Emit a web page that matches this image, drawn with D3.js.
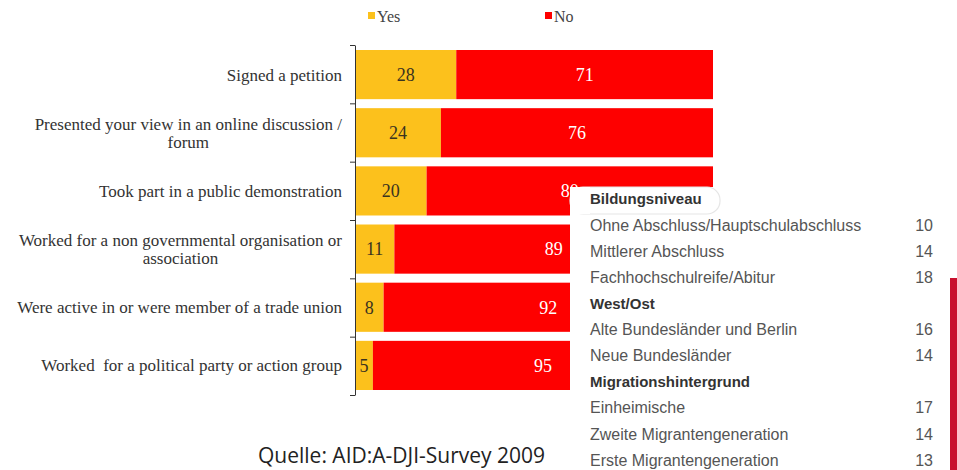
<!DOCTYPE html>
<html><head><meta charset="utf-8">
<script src="https://cdn.jsdelivr.net/npm/d3@7"></script>
<style>
html,body{margin:0;padding:0;background:#fff;}
svg{display:block;}
text{white-space:pre;}
</style></head>
<body>
<svg id="chart" width="957" height="470"></svg>
<script>
// ---- data ----
const categories = [
  "Signed a petition",
  "Presented your view in an online discussion /|forum",
  "Took part in a public demonstration",
  "Worked for a non governmental organisation or|association",
  "Were active in or were member of a trade union",
  "Worked  for a political party or action group"
];
const yesValues = [28, 24, 20, 11, 8, 5];
const noValues  = [71, 76, 80, 89, 92, 95];
const seriesNames = ["Yes", "No"];

const tableGroups = ["Bildungsniveau", "West/Ost", "Migrationshintergrund"];
const tableLabels = [
  "Ohne Abschluss/Hauptschulabschluss", "Mittlerer Abschluss", "Fachhochschulreife/Abitur",
  "Alte Bundesländer und Berlin", "Neue Bundesländer",
  "Einheimische", "Zweite Migrantengeneration", "Erste Migrantengeneration"
];
const tableValues = [10, 14, 18, 16, 14, 17, 14, 13];
const tableLabelGroup = [0, 0, 0, 1, 1, 2, 2, 2];
const sourceText = "Quelle: AID:A-DJI-Survey 2009";

// ---- setup ----
const svg = d3.select("#chart");
const colors = {Yes: "#fcc11c", No: "#fe0000"};
const serif = "'Liberation Serif', 'Times New Roman', serif";
const sans = "'Liberation Sans', Arial, sans-serif";

const rows = categories.map((c, i) => ({cat: c, Yes: yesValues[i], No: noValues[i]}));
const stack = d3.stack().keys(seriesNames).offset(d3.stackOffsetExpand);
const stacked = stack(rows);

const x = d3.scaleLinear().domain([0, 1]).range([355, 713]);
const y = d3.scaleBand().domain(categories).range([45, 395]).paddingInner(0.155).paddingOuter(0.086);

// bars
const g = svg.append("g");
stacked.forEach(layer => {
  g.selectAll(null).data(layer).enter().append("rect")
    .attr("x", d => x(d[0]))
    .attr("y", d => y(d.data.cat))
    .attr("width", d => x(d[1]) - x(d[0]))
    .attr("height", y.bandwidth())
    .attr("fill", colors[layer.key]);
  g.selectAll(null).data(layer).enter().append("text")
    .attr("x", d => (x(d[0]) + x(d[1])) / 2)
    .attr("y", d => y(d.data.cat) + y.bandwidth() / 2)
    .attr("dy", "0.35em")
    .attr("text-anchor", "middle")
    .attr("font-family", serif)
    .attr("font-size", 18)
    .attr("fill", layer.key === "Yes" ? "#3a3320" : "#fff")
    .text(d => d.data[layer.key]);
});

// axis
const axisScale = d3.scaleLinear().domain([0, categories.length]).range([45, 395]);
const axisG = svg.append("g").attr("transform", "translate(355,0)")
  .call(d3.axisLeft(axisScale).ticks(categories.length).tickFormat("").tickSize(5).tickSizeOuter(0));
axisG.selectAll("path,line").attr("stroke", "#333");

// category labels
const labelSize = 17;
categories.forEach(c => {
  const lines = c.split("|");
  const cy = y(c) + y.bandwidth() / 2;
  const lh = 18;
  const t = svg.append("text")
    .attr("font-family", serif).attr("font-size", labelSize).attr("fill", "#333");
  const first = t.append("tspan").attr("x", 342).attr("text-anchor", "end")
    .attr("y", cy - (lines.length - 1) * lh / 2).attr("dy", "0.35em").text(lines[0]);
  if (lines.length > 1) {
    const w = first.node().getComputedTextLength();
    svg.append("text").attr("font-family", serif).attr("font-size", labelSize).attr("fill", "#333")
      .attr("x", 342 - w / 2).attr("text-anchor", "middle")
      .attr("y", cy + lh / 2).attr("dy", "0.35em").text(lines[1]);
  }
});

// legend
const legendX = {Yes: 368, No: 545};
seriesNames.forEach(s => {
  svg.append("rect").attr("x", legendX[s]).attr("y", 12).attr("width", 7).attr("height", 7).attr("fill", colors[s]);
  svg.append("text").attr("x", legendX[s] + 9).attr("y", 22)
    .attr("font-family", serif).attr("font-size", 16).attr("fill", "#444").text(s);
});

// overlay table
svg.append("rect").attr("x", 570).attr("y", 187).attr("width", 387).attr("height", 283).attr("fill", "#fff");
svg.append("rect").attr("x", 570).attr("y", 187).attr("width", 150).attr("height", 27).attr("rx", 13)
  .attr("fill", "#fff").attr("stroke", "#e6e6e6").attr("stroke-width", 1.2);
svg.append("rect").attr("x", 570).attr("y", 187).attr("width", 20).attr("height", 27).attr("fill", "#fff");
svg.append("rect").attr("x", 950).attr("y", 278).attr("width", 7).attr("height", 192).attr("fill", "#c8102e");

const tableRows = [];
tableGroups.forEach((gname, gi) => {
  tableRows.push({label: gname, bold: true});
  tableLabels.forEach((l, i) => { if (tableLabelGroup[i] === gi) tableRows.push({label: l, value: tableValues[i], bold: false}); });
});
const ty = d3.scalePoint().domain(d3.range(tableRows.length)).range([199, 460]);
tableRows.forEach((r, i) => {
  svg.append("text").attr("x", 590).attr("y", ty(i)).attr("dy", "0.35em")
    .attr("font-family", sans).attr("font-size", r.bold ? 15 : 16)
    .attr("font-weight", r.bold ? "bold" : "normal")
    .attr("fill", r.bold ? "#333" : "#555").text(r.label);
  if (r.value !== undefined) {
    svg.append("text").attr("x", 933).attr("y", ty(i)).attr("dy", "0.35em").attr("text-anchor", "end")
      .attr("font-family", sans).attr("font-size", 16).attr("fill", "#555").text(r.value);
  }
});

// source
svg.append("text").attr("x", 258).attr("y", 463)
  .attr("font-family", "'Open Sans', sans-serif").attr("font-size", 21).attr("fill", "#222").text(sourceText);
</script>
</body></html>
